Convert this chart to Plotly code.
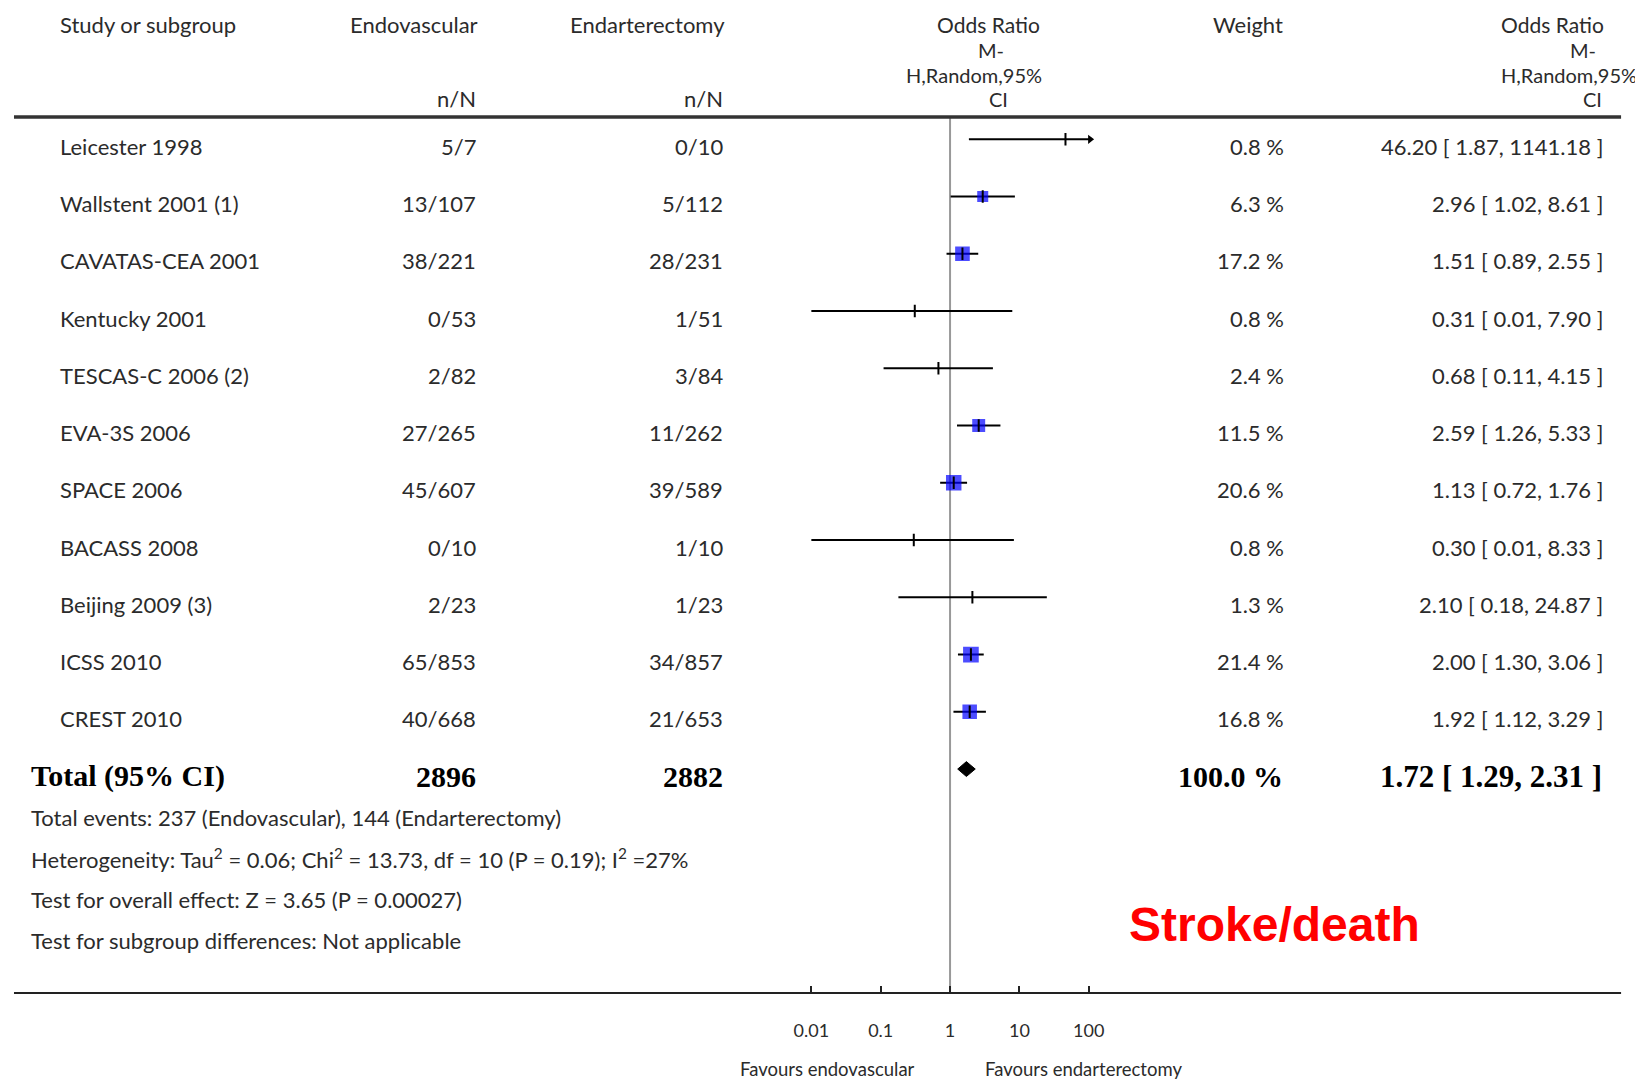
import math
import plotly.graph_objects as go

# ---------------- data ----------------
studies = ["Leicester 1998", "Wallstent 2001 (1)", "CAVATAS-CEA 2001", "Kentucky 2001",
           "TESCAS-C 2006 (2)", "EVA-3S 2006", "SPACE 2006", "BACASS 2008",
           "Beijing 2009 (3)", "ICSS 2010", "CREST 2010"]
endovascular = ["5/7", "13/107", "38/221", "0/53", "2/82", "27/265", "45/607", "0/10",
                "2/23", "65/853", "40/668"]
endarterectomy = ["0/10", "5/112", "28/231", "1/51", "3/84", "11/262", "39/589", "1/10",
                  "1/23", "34/857", "21/653"]
weights = [0.8, 6.3, 17.2, 0.8, 2.4, 11.5, 20.6, 0.8, 1.3, 21.4, 16.8]
odds_ratio = [46.20, 2.96, 1.51, 0.31, 0.68, 2.59, 1.13, 0.30, 2.10, 2.00, 1.92]
ci_low = [1.87, 1.02, 0.89, 0.01, 0.11, 1.26, 0.72, 0.01, 0.18, 1.30, 1.12]
ci_high = [1141.18, 8.61, 2.55, 7.90, 4.15, 5.33, 1.76, 8.33, 24.87, 3.06, 3.29]

total_label = "Total (95% CI)"
total_endo = "2896"
total_endart = "2882"
total_weight = 100.0
total_or, total_low, total_high = 1.72, 1.29, 2.31

footer_lines = [
    "Total events: 237 (Endovascular), 144 (Endarterectomy)",
    "Heterogeneity: Tau<sup>2</sup> = 0.06; Chi<sup>2</sup> = 13.73, df = 10 (P = 0.19); I<sup>2</sup> =27%",
    "Test for overall effect: Z = 3.65 (P = 0.00027)",
    "Test for subgroup differences: Not applicable",
]
tick_vals = [0.01, 0.1, 1, 10, 100]
tick_text = ["0.01", "0.1", "1", "10", "100"]
favours_left = "Favours endovascular"
favours_right = "Favours endarterectomy"
panel_title = "Stroke/death"

# ---------------- layout helpers ----------------
OFF = 8                      # page body margin of the browser
FW, FH = 1643 - OFF, 1080 - OFF
def px(x):
    return (x - OFF) / FW
def py(y):
    return 1 - (y - OFF) / FH

TXT = "#2b2b2b"
FONT = "Lato"
fs = 22
hs = 20
YS = -7

n = len(studies)
rows = list(range(n))
total_row = n
clip_hi = 10 ** 2.02

fig = go.Figure()

# CI lines
xs, ys = [], []
for i in rows:
    xs += [ci_low[i], min(ci_high[i], clip_hi), None]
    ys += [i, i, None]
fig.add_trace(go.Scatter(x=xs, y=ys, mode="lines", line=dict(color="black", width=2),
                         hoverinfo="skip", showlegend=False))
# arrows for clipped intervals
arr_x = [clip_hi for i in rows if ci_high[i] > clip_hi]
arr_y = [i for i in rows if ci_high[i] > clip_hi]
fig.add_trace(go.Scatter(x=arr_x, y=arr_y, mode="markers",
                         marker=dict(symbol="triangle-right", size=8, color="black"),
                         hoverinfo="skip", showlegend=False))
# weight boxes
bx = [odds_ratio[i] for i in rows if weights[i] >= 5]
by = [i for i in rows if weights[i] >= 5]
bs = [5.5 + 2.2 * math.sqrt(weights[i]) for i in rows if weights[i] >= 5]
fig.add_trace(go.Scatter(x=bx, y=by, mode="markers",
                         marker=dict(symbol="square", size=bs, color="#0000ff", line=dict(width=0)),
                         hoverinfo="skip", showlegend=False))
# point ticks
fig.add_trace(go.Scatter(x=odds_ratio, y=rows, mode="markers",
                         marker=dict(symbol="line-ns", size=9, line=dict(color="black", width=2)),
                         hoverinfo="skip", showlegend=False))
# diamond
dh = 0.13
fig.add_trace(go.Scatter(x=[total_low, total_or, total_high, total_or, total_low],
                         y=[total_row, total_row - dh, total_row, total_row + dh, total_row],
                         mode="lines", fill="toself", fillcolor="black",
                         line=dict(color="black", width=1), hoverinfo="skip", showlegend=False))

ann = []
def add(text, x, y, xanchor="left", yref="paper", size=fs, family=FONT, color=TXT, yshift=0):
    ann.append(dict(text=text, x=x, y=y, xref="paper", yref=yref, xanchor=xanchor,
                    yanchor="middle", showarrow=False, yshift=yshift,
                    font=dict(family=family, size=size, color=color)))

# headers
add("Study or subgroup", px(54), py(25))
add("Endovascular", px(478), py(25), "right")
add("Endarterectomy", px(726), py(25), "right")
add("n/N", px(476), py(99), "right")
add("n/N", px(724), py(99), "right")
add("Odds Ratio", px(1042), py(25), "right", size=hs + 1)
add("M-", px(991), py(50), "center", size=hs)
add("H,Random,95%", px(1044), py(75), "right", size=hs)
add("CI", px(998), py(99), "center", size=hs)
add("Weight", px(1286), py(25), "right")
add("Odds Ratio", px(1608), py(25), "right", size=hs + 1)
add("M-", px(1600), py(50), "right", size=hs)
add("H,Random,95%", px(1641), py(75), "right", size=hs)
add("CI", px(1606), py(99), "right", size=hs)

# rows
for i in rows:
    add(studies[i], px(54), i, "left", "y", yshift=YS)
    add(endovascular[i], px(476), i, "right", "y", yshift=YS)
    add(endarterectomy[i], px(724), i, "right", "y", yshift=YS)
    add(f"{weights[i]:.1f} %", px(1287), i, "right", "y", yshift=YS)
    add(f"{odds_ratio[i]:.2f} [ {ci_low[i]:.2f}, {ci_high[i]:.2f} ]", px(1607), i, "right", "y", yshift=YS)

SERIF = "Liberation Serif"
TS = 30
add(f"<b>{total_label}</b>", px(25), total_row, "left", "y", size=TS, family=SERIF, color="black", yshift=YS)
add(f"<b>{total_endo}</b>", px(476), total_row, "right", "y", size=TS, family=SERIF, color="black", yshift=YS)
add(f"<b>{total_endart}</b>", px(724), total_row, "right", "y", size=TS, family=SERIF, color="black", yshift=YS)
add(f"<b>{total_weight:.1f} %</b>", px(1286), total_row, "right", "y", size=TS, family=SERIF, color="black", yshift=YS)
add(f"<b>{total_or:.2f} [ {total_low:.2f}, {total_high:.2f} ]</b>", px(1606), total_row, "right", "y",
    size=TS + 1, family=SERIF, color="black", yshift=YS)

for k, line in enumerate(footer_lines):
    add(line, px(25), py(817 + 41 * k))

add(f"<b>{panel_title}</b>", px(1275), py(924), "center", size=48, family="Liberation Sans", color="#ff0000")
add(favours_left, px(916), py(1069), "right", size=18.5)
add(favours_right, px(983), py(1069), "left", size=18.5)

# rules
shapes = [
    dict(type="line", xref="paper", yref="paper", x0=px(10), x1=px(1623), y0=py(117), y1=py(117),
         line=dict(color="#333333", width=3.5)),
    dict(type="line", xref="paper", yref="paper", x0=px(10), x1=px(1623), y0=py(993), y1=py(993),
         line=dict(color="#222222", width=2)),
    dict(type="line", xref="x", yref="paper", x0=1, x1=1, y0=py(993), y1=py(118),
         line=dict(color="#999999", width=2), layer="below"),
]

dec = 69.6
zero_px = 949.5
lo_px = zero_px - 2.2 * dec
hi_px = zero_px + 2.2 * dec
row0 = 139.3 - OFF
rstep = 57.25

fig.update_layout(
    width=FW, height=FH, margin=dict(l=0, r=0, t=0, b=0),
    paper_bgcolor="white", plot_bgcolor="rgba(0,0,0,0)",
    xaxis=dict(type="log", range=[-2.2, 2.2], domain=[px(lo_px), px(hi_px)],
               anchor="free", position=py(993),
               tickvals=tick_vals, ticktext=tick_text, ticks="inside", ticklen=7, tickwidth=2,
               tickcolor="#222", showgrid=False, zeroline=False, showline=False,
               ticklabelstandoff=25,
               tickfont=dict(family=FONT, size=18, color=TXT)),
    yaxis=dict(range=[(FH - row0) / rstep, -row0 / rstep], domain=[0, 1], visible=False,
               showgrid=False, zeroline=False),
    annotations=ann, shapes=shapes, showlegend=False,
)

fig.write_html("out.html")
